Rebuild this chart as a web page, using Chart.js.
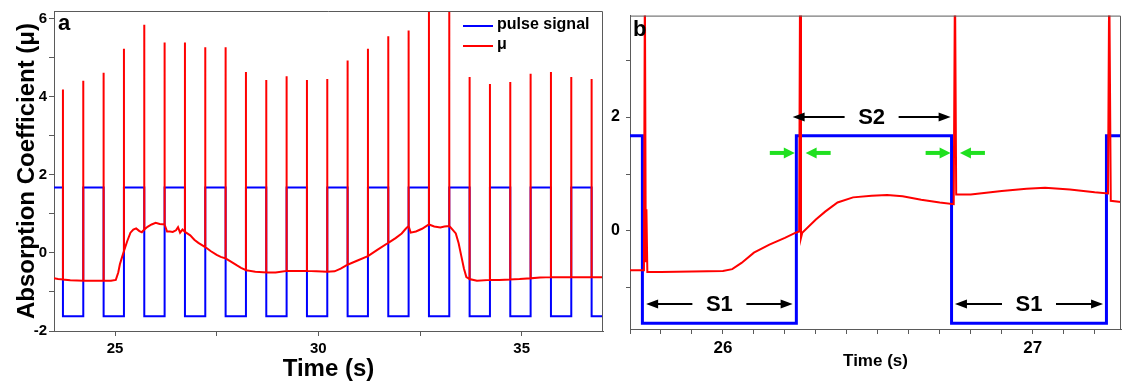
<!DOCTYPE html>
<html><head><meta charset="utf-8">
<script src="https://cdn.jsdelivr.net/npm/chart.js@4.4.1/dist/chart.umd.min.js"></script>
<style>
html,body{margin:0;padding:0;background:#fff;width:1122px;height:388px;overflow:hidden;}
#ca{position:absolute;left:0;top:0;}
#cb{position:absolute;left:604px;top:0;}
</style></head><body>
<canvas id="ca" width="606" height="388"></canvas>
<canvas id="cb" width="518" height="388"></canvas>
<script>
// ---------- Panel a data ----------
const pulseA_T = [23.5, 23.72, 24.22, 24.72, 25.22, 25.72, 26.22, 26.72, 27.22, 27.72, 28.22, 28.72, 29.22, 29.72, 30.22, 30.72, 31.22, 31.72, 32.22, 32.72, 33.22, 33.72, 34.22, 34.72, 35.22, 35.72, 36.22, 36.72, 37.0];
const pulseA_V = [1.68, -1.62, 1.68, -1.62, 1.68, -1.62, 1.68, -1.62, 1.68, -1.62, 1.68, -1.62, 1.68, -1.62, 1.68, -1.62, 1.68, -1.62, 1.68, -1.62, 1.68, -1.62, 1.68, -1.62, 1.68, -1.62, 1.68, -1.62, -1.62];

const muA_T = [23.50, 23.60, 23.72, 23.90, 24.22, 24.45, 24.72, 24.90, 25.02, 25.08, 25.12, 25.17, 25.22, 25.30, 25.38, 25.45, 25.52, 25.60, 25.66, 25.72, 25.80, 25.90, 26.00, 26.10, 26.22, 26.28, 26.35, 26.42, 26.50, 26.55, 26.60, 26.66, 26.72, 26.85, 26.95, 27.05, 27.22, 27.35, 27.50, 27.60, 27.72, 27.85, 28.00, 28.10, 28.22, 28.45, 28.72, 28.95, 29.22, 29.50, 29.72, 29.95, 30.22, 30.40, 30.55, 30.72, 30.95, 31.22, 31.45, 31.72, 31.90, 32.05, 32.15, 32.22, 32.27, 32.40, 32.55, 32.72, 32.85, 33.00, 33.10, 33.22, 33.30, 33.38, 33.45, 33.52, 33.58, 33.64, 33.72, 33.90, 34.22, 34.45, 34.72, 34.95, 35.22, 35.45, 35.72, 36.22, 36.72, 37.00];
const muA_V = [-0.65, -0.67, -0.68, -0.70, -0.71, -0.71, -0.71, -0.71, -0.69, -0.50, -0.29, -0.12, 0.05, 0.30, 0.52, 0.60, 0.63, 0.56, 0.53, 0.60, 0.67, 0.73, 0.77, 0.74, 0.73, 0.55, 0.55, 0.54, 0.58, 0.66, 0.52, 0.60, 0.54, 0.45, 0.34, 0.26, 0.15, 0.05, -0.05, -0.10, -0.14, -0.22, -0.32, -0.38, -0.44, -0.48, -0.50, -0.50, -0.46, -0.46, -0.46, -0.47, -0.48, -0.47, -0.40, -0.30, -0.20, -0.08, 0.08, 0.26, 0.38, 0.50, 0.62, 0.69, 0.52, 0.55, 0.62, 0.73, 0.68, 0.65, 0.68, 0.69, 0.60, 0.50, 0.25, -0.10, -0.40, -0.62, -0.67, -0.71, -0.69, -0.69, -0.68, -0.67, -0.65, -0.63, -0.62, -0.62, -0.62, -0.62];

const spikeA_T = [23.72, 24.22, 24.72, 25.22, 25.72, 26.22, 26.72, 27.22, 27.72, 28.22, 28.72, 29.22, 29.72, 30.22, 30.72, 31.22, 31.72, 32.22, 32.72, 33.22, 33.72, 34.22, 34.72, 35.22, 35.72, 36.22, 36.72];
const spikeA_Top = [4.19, 4.41, 4.62, 5.23, 5.85, 5.39, 5.39, 5.27, 5.27, 4.64, 4.43, 4.53, 4.43, 4.46, 4.93, 5.23, 5.55, 5.70, 7.0, 7.0, 4.51, 4.33, 4.38, 4.59, 4.64, 4.51, 4.46];

const xTicksA = {min: 23.5, max: 37, step: 2.5, labelEvery: 5};
const yTicksA = {min: -2, max: 6.2, step: 1, labelEvery: 2};

// ---------- Panel b data ----------
const pulseB_T = [25.70, 25.74, 26.237, 26.738, 27.238, 27.285];
const pulseB_V = [1.67, -1.62, 1.67, -1.62, 1.67, 1.67];

const muB_T = [25.700, 25.745, 25.748, 25.751, 25.753, 25.756, 25.800, 25.900, 26.000, 26.030, 26.060, 26.100, 26.150, 26.200, 26.235, 26.246, 26.249, 26.252, 26.256, 26.300, 26.330, 26.370, 26.420, 26.480, 26.530, 26.580, 26.640, 26.700, 26.745, 26.749, 26.753, 26.800, 26.900, 26.980, 27.040, 27.120, 27.200, 27.243, 27.247, 27.252, 27.285];
const muB_V = [-0.69, -0.69, 4.50, -0.55, 0.38, -0.72, -0.72, -0.71, -0.70, -0.67, -0.56, -0.38, -0.24, -0.12, -0.03, -0.01, 4.50, -0.12, -0.03, 0.20, 0.34, 0.50, 0.59, 0.62, 0.63, 0.61, 0.55, 0.50, 0.47, 4.50, 0.64, 0.64, 0.70, 0.74, 0.76, 0.73, 0.68, 0.66, 4.50, 0.53, 0.51];

const xTicksB = {min: 25.7, max: 27.285, step: 0.1};
const yTicksB = {min: -1.72, max: 3.78, step: 1, labels: [0, 2]};

// annotations (data units)
const spanLabel = ['S1', 'S2', 'S1'];
const spanFrom  = [25.752, 26.225, 26.749];
const spanTo    = [26.225, 26.735, 27.227];
const spanY     = [-1.28, 2.0, -1.28];
const greenTip  = [26.232, 26.267, 26.735, 26.765];
const greenDir  = [1, -1, 1, -1];
const greenY    = 1.37;

// ---------- helpers ----------
const FONT = '"Liberation Sans", Arial, Helvetica, sans-serif';
const AXC = '#5a5a5a';
function xy(T, V) { return T.map((t, i) => ({x: t, y: V[i]})); }
function withSpikes(T, V, ST, SP) {
  const out = [];
  T.forEach((t, i) => {
    out.push({x: t, y: V[i]});
    const k = ST.indexOf(t);
    if (k >= 0) { out.push({x: t, y: SP[k]}); out.push({x: t, y: V[i]}); }
  });
  return out;
}
const framePlugin = {id: 'frame', afterDraw(c) {
  const {ctx, chartArea: a} = c; ctx.save(); ctx.strokeStyle = AXC; ctx.lineWidth = 1;
  ctx.beginPath(); ctx.moveTo(a.left, a.top + 0.5); ctx.lineTo(a.right - 0.5, a.top + 0.5); ctx.lineTo(a.right - 0.5, a.bottom); ctx.stroke(); ctx.restore();
}};
function panelLabel(txt, dx, dy) { return {id: 'plabel' + txt, afterDraw(c) {
  const {ctx, chartArea: a} = c; ctx.save(); ctx.font = 'bold 22px ' + FONT; ctx.fillStyle = '#000';
  ctx.textBaseline = 'alphabetic'; ctx.fillText(txt, a.left + dx, a.top + dy); ctx.restore();
}}; }
const legendPlugin = {id: 'lgd', afterDraw(c) {
  const {ctx, chartArea: a} = c; ctx.save();
  c.data.datasets.forEach((ds, i) => {
    const y = a.top + 15 + i * 20;
    ctx.strokeStyle = ds.borderColor; ctx.lineWidth = 2;
    ctx.beginPath(); ctx.moveTo(a.right - 140, y); ctx.lineTo(a.right - 110, y); ctx.stroke();
    ctx.fillStyle = '#000'; ctx.font = 'bold 16px ' + FONT; ctx.textBaseline = 'middle';
    ctx.fillText(ds.label, a.right - 106, y - 1);
  });
  ctx.restore();
}};
function arrow(ctx, x0, y, x1, color, shaft, hl, hh) {
  const d = Math.sign(x1 - x0);
  ctx.strokeStyle = color; ctx.fillStyle = color; ctx.lineWidth = shaft;
  ctx.beginPath(); ctx.moveTo(x0, y); ctx.lineTo(x1 - d * hl * 0.7, y); ctx.stroke();
  ctx.beginPath(); ctx.moveTo(x1, y); ctx.lineTo(x1 - d * hl, y - hh); ctx.lineTo(x1 - d * hl, y + hh); ctx.closePath(); ctx.fill();
}
const annoPlugin = {id: 'anno', afterDatasetsDraw(c) {
  const {ctx} = c, sx = c.scales.x, sy = c.scales.y; ctx.save();
  spanLabel.forEach((lab, i) => {
    const x0 = sx.getPixelForValue(spanFrom[i]), x1 = sx.getPixelForValue(spanTo[i]);
    const y = sy.getPixelForValue(spanY[i]), xm = (x0 + x1) / 2;
    arrow(ctx, xm - 27, y, x0, '#000', 2, 12, 4.5);
    arrow(ctx, xm + 27, y, x1, '#000', 2, 12, 4.5);
    ctx.fillStyle = '#000'; ctx.font = 'bold 22px ' + FONT; ctx.textAlign = 'center'; ctx.textBaseline = 'middle';
    ctx.fillText(lab, xm, y + 1);
  });
  const gy = sy.getPixelForValue(greenY);
  greenTip.forEach((t, i) => {
    const xt = sx.getPixelForValue(t);
    arrow(ctx, xt - greenDir[i] * 25, gy, xt, '#1fe01f', 4, 11, 5.5);
  });
  ctx.restore();
}};
function scaleX(cfg, size, height, title, titleSize, titlePad, labelFn, tickPad) {
  return {type: 'linear', min: cfg.min, max: cfg.max,
    ticks: {stepSize: cfg.step, includeBounds: false, autoSkip: false, maxRotation: 0, minRotation: 0,
      color: '#000', font: {family: FONT, size: size, weight: 'bold'}, padding: tickPad, callback: labelFn},
    grid: {drawOnChartArea: false, drawTicks: true, tickLength: 5, color: AXC, tickColor: AXC},
    border: {display: true, color: AXC, width: 1},
    title: {display: true, text: title, color: '#000', font: {family: FONT, size: titleSize, weight: 'bold'}, padding: {top: 0, bottom: titlePad}},
    afterFit: s => { s.height = height; }};
}

// ---------- Chart a ----------
new Chart(document.getElementById('ca'), {
  type: 'line',
  data: {datasets: [
    {label: 'pulse signal', data: xy(pulseA_T, pulseA_V), borderColor: '#0000ff', borderWidth: 2, stepped: 'before', pointRadius: 0, fill: false, order: 2},
    {label: 'μ', data: withSpikes(muA_T, muA_V, spikeA_T, spikeA_Top), borderColor: '#ff0000', borderWidth: 2, pointRadius: 0, fill: false, tension: 0, order: 1}
  ]},
  options: {
    responsive: false, animation: false, events: [],
    layout: {padding: {left: 0, top: 8, right: 3, bottom: 0}},
    plugins: {legend: {display: false}, tooltip: {enabled: false}},
    scales: {
      x: scaleX(xTicksA, 15, 57, 'Time (s)', 24, 4, v => (Math.abs(v % xTicksA.labelEvery) < 1e-9 ? String(v) : ''), 4),
      y: {min: yTicksA.min, max: yTicksA.max,
        ticks: {stepSize: yTicksA.step, includeBounds: false, color: '#000', font: {family: FONT, size: 15, weight: 'bold'}, padding: 2,
          callback: v => (Math.abs(v % yTicksA.labelEvery) < 1e-9 ? String(v) : '')},
        grid: {drawOnChartArea: false, drawTicks: true, tickLength: 5, color: AXC, tickColor: AXC},
        border: {display: true, color: AXC, width: 1},
        title: {display: true, text: 'Absorption Coefficient (μ)', color: '#000', font: {family: FONT, size: 24, weight: 'bold'}, padding: {top: 13, bottom: 0}},
        afterFit: s => { s.width = 54; }}
    }
  },
  plugins: [framePlugin, panelLabel('a', 4, 19), legendPlugin]
});

// ---------- Chart b ----------
new Chart(document.getElementById('cb'), {
  type: 'line',
  data: {datasets: [
    {label: 'pulse signal', data: xy(pulseB_T, pulseB_V), borderColor: '#0000ff', borderWidth: 3, stepped: 'before', pointRadius: 0, fill: false, order: 2},
    {label: 'μ', data: xy(muB_T, muB_V), borderColor: '#ff0000', borderWidth: 2, pointRadius: 0, fill: false, tension: 0, order: 1}
  ]},
  options: {
    responsive: false, animation: false, events: [],
    layout: {padding: {left: 0, top: 10, right: 1, bottom: 0}},
    plugins: {legend: {display: false}, tooltip: {enabled: false}},
    scales: {
      x: scaleX(xTicksB, 17, 59, 'Time (s)', 17, 16, v => (Math.abs(v - Math.round(v)) < 1e-6 ? String(Math.round(v)) : ''), 4),
      y: {min: yTicksB.min, max: yTicksB.max,
        ticks: {stepSize: yTicksB.step, includeBounds: false, color: '#000', font: {family: FONT, size: 16, weight: 'bold'}, padding: 6,
          callback: v => (yTicksB.labels.some(l => Math.abs(l - v) < 1e-9) ? String(v) : '')},
        grid: {drawOnChartArea: false, drawTicks: true, tickLength: 4, color: AXC, tickColor: AXC},
        border: {display: true, color: AXC, width: 1},
        afterFit: s => { s.width = 26; }}
    }
  },
  plugins: [framePlugin, panelLabel('b', 3, 20), annoPlugin]
});
</script></body></html>
